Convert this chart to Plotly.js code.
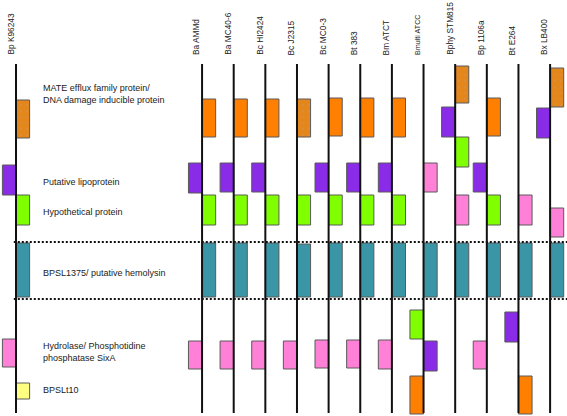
<!DOCTYPE html>
<html>
<head>
<meta charset="utf-8">
<script src="https://cdn.plot.ly/plotly-3.0.1.min.js"></script>
<style>html,body{margin:0;padding:0;background:#fff;}#chart{width:567px;height:416px;}</style>
</head>
<body>
<div id="chart"></div>
<script>
// ---- DATA ----
const strains = ["Bp K96243","Ba AMMd","Ba MC40-6","Bc HI2424","Bc J2315","Bc MC0-3","Bt 383",
                 "Bm ATCT","Bmulti ATCC","Bphy STM815","Bp 1106a","Bt E264","Bx LB400"];

// gene families (colour groups) and their row labels (in reference strain Bp K96243)
const geneTypes  = ["MATE","lipoprotein","hypothetical","BPSL1375","hydrolase","BPSLt10"];
const typeLabels = ["MATE efflux family protein/<br>DNA damage inducible protein","Putative lipoprotein",
                    "Hypothetical protein","BPSL1375/ putative hemolysin",
                    "Hydrolase/ Phosphotidine<br>phosphatase SixA","BPSLt10"];
const labelPos   = [94, 182, 212, 273, 352, 390];

// genes: strain index, family, strand (L/R), start, end (schematic position along locus), textured
const geneStrain = [0,1,2,3,4,5,6,7,9,10,12,8,11,
                    0,1,2,3,5,6,7,9,10,12,8,11,
                    0,1,2,3,4,5,6,7,8,9,10,
                    0,1,2,3,4,5,6,7,8,9,10,11,12,
                    0,1,2,3,4,5,6,7,10,9,11,12,8,
                    0];
const geneType   = ["MATE","MATE","MATE","MATE","MATE","MATE","MATE","MATE","MATE","MATE","MATE","MATE","MATE",
                    "lipoprotein","lipoprotein","lipoprotein","lipoprotein","lipoprotein","lipoprotein","lipoprotein","lipoprotein","lipoprotein","lipoprotein","lipoprotein","lipoprotein",
                    "hypothetical","hypothetical","hypothetical","hypothetical","hypothetical","hypothetical","hypothetical","hypothetical","hypothetical","hypothetical","hypothetical",
                    "BPSL1375","BPSL1375","BPSL1375","BPSL1375","BPSL1375","BPSL1375","BPSL1375","BPSL1375","BPSL1375","BPSL1375","BPSL1375","BPSL1375","BPSL1375",
                    "hydrolase","hydrolase","hydrolase","hydrolase","hydrolase","hydrolase","hydrolase","hydrolase","hydrolase","hydrolase","hydrolase","hydrolase","hydrolase",
                    "BPSLt10"];
const geneStrand = ["R","R","R","R","R","R","R","R","R","R","R","L","R",
                    "L","L","L","L","L","L","L","L","L","L","R","L",
                    "R","R","R","R","R","R","R","R","L","R","R",
                    "R","R","R","R","R","R","R","R","R","R","R","R","R",
                    "L","L","L","L","L","L","L","L","L","R","R","R","R",
                    "R"];
const geneStart  = [100,99,99,99,99,98,98,98,66,98,68,376,376,
                    165,163,163,163,163,163,163,107,163,108,341,312,
                    195,195,195,195,195,195,195,195,310,137,195,
                    243,243,243,243,244,243,243,243,243,243,243,243,243,
                    339,341,341,341,341,340,340,340,341,195,195,208,163,
                    383];
const geneEnd    = [138,137,137,137,137,136,137,137,103,136,107,414,414,
                    195,193,192,192,192,192,192,137,192,138,371,342,
                    225,225,225,225,225,225,225,225,339,167,225,
                    297,297,297,297,297,297,297,297,297,297,297,297,297,
                    367,369,369,369,369,368,368,369,369,225,225,237,192,
                    399];
const geneTextured = [1,0,0,0,1,0,0,0,1,0,1,0,0,
                      0,0,0,0,0,0,0,0,0,0,0,0,
                      0,0,0,0,0,0,0,0,0,0,0,
                      0,0,0,0,0,0,0,0,0,0,0,0,0,
                      1,1,1,1,1,1,1,1,1,1,1,1,1,
                      1];

// ---- STYLE / LAYOUT CONSTANTS ----
const typeColors = {MATE:"#FF7F00", lipoprotein:"#8A2BE8", hypothetical:"#80FF00",
                    BPSL1375:"#3A95A6", hydrolase:"#FF80D6", BPSLt10:"#FFFF80"};
const texturedColors = {MATE:"#E3861C"};
const dotColors  = {MATE:"#b8a090", hydrolase:"#e890d0", BPSLt10:"#e8e8a0"};
const boxW = 0.43;            // gene box width in strain units
const firstGap = 5.88;        // gap after the reference strain
const lineTop = 64, lineBottom = 413;
const blockTop = 242, blockBottom = 299;
const labelBase = 57;

function strainX(i){ return i === 0 ? 0 : firstGap + (i - 1); }

const traces = [];
geneTypes.forEach(t => {
  [0,1].forEach(tex => {
    const idx = geneType.map((g,i)=> (g===t && geneTextured[i]===tex) ? i : -1).filter(i=>i>=0);
    if(!idx.length) return;
    const col = tex ? (texturedColors[t] || typeColors[t]) : typeColors[t];
    const marker = {color: col, line:{color:"#5a5a5a", width:1}};
    if(tex) marker.pattern = {shape:".", fillmode:"overlay", fgcolor: dotColors[t] || "#888", size:6, solidity:0.06};
    traces.push({
      type:"bar",
      x: idx.map(i=>strainX(geneStrain[i])),
      base: idx.map(i=>geneStart[i]),
      y: idx.map(i=>geneEnd[i]-geneStart[i]),
      width: boxW,
      offset: idx.map(i=> geneStrand[i]==="L" ? -boxW : 0),
      marker: marker,
      hoverinfo:"skip", showlegend:false
    });
  });
});

// strain backbone lines
const lx=[], ly=[];
strains.forEach((s,i)=>{ lx.push(strainX(i),strainX(i),null); ly.push(lineTop,lineBottom,null); });
traces.push({type:"scatter", mode:"lines", x:lx, y:ly, line:{color:"#111", width:2}, hoverinfo:"skip", showlegend:false});

// conserved block boundaries
const xEnd = strainX(strains.length-1) + 1;
traces.push({type:"scatter", mode:"lines", x:[-0.07,xEnd,null,-0.07,xEnd], y:[blockTop,blockTop,null,blockBottom,blockBottom],
  line:{color:"#111", width:2, dash:"2px,2px"}, hoverinfo:"skip", showlegend:false});

const annotations = [];
strains.forEach((s,i)=>{
  annotations.push({x:strainX(i), y:labelBase, xref:"x", yref:"y", text:s, showarrow:false,
    textangle:-90, xanchor:"center", yanchor:"bottom", xshift:-6,
    font:{family:"Liberation Sans, Arial, sans-serif", size: s==="Bmulti ATCC" ? 7.2 : 8.3, color:"#222"}});
});
typeLabels.forEach((t,i)=>{
  annotations.push({x:0.78, y:labelPos[i], xref:"x", yref:"y", text:t, showarrow:false, align:"left",
    xanchor:"left", yanchor:"middle",
    font:{family:"Liberation Sans, Arial, sans-serif", size:9, color:"#222"}});
});

const layout = {
  width:567, height:416, margin:{l:0,r:0,t:0,b:0},
  paper_bgcolor:"#fff", plot_bgcolor:"#fff",
  barmode:"overlay", showlegend:false,
  xaxis:{range:[-0.506,17.414], visible:false, fixedrange:true},
  yaxis:{range:[416,0], visible:false, fixedrange:true},
  annotations: annotations
};
Plotly.newPlot("chart", traces, layout, {staticPlot:true, displayModeBar:false});
</script>
</body>
</html>
